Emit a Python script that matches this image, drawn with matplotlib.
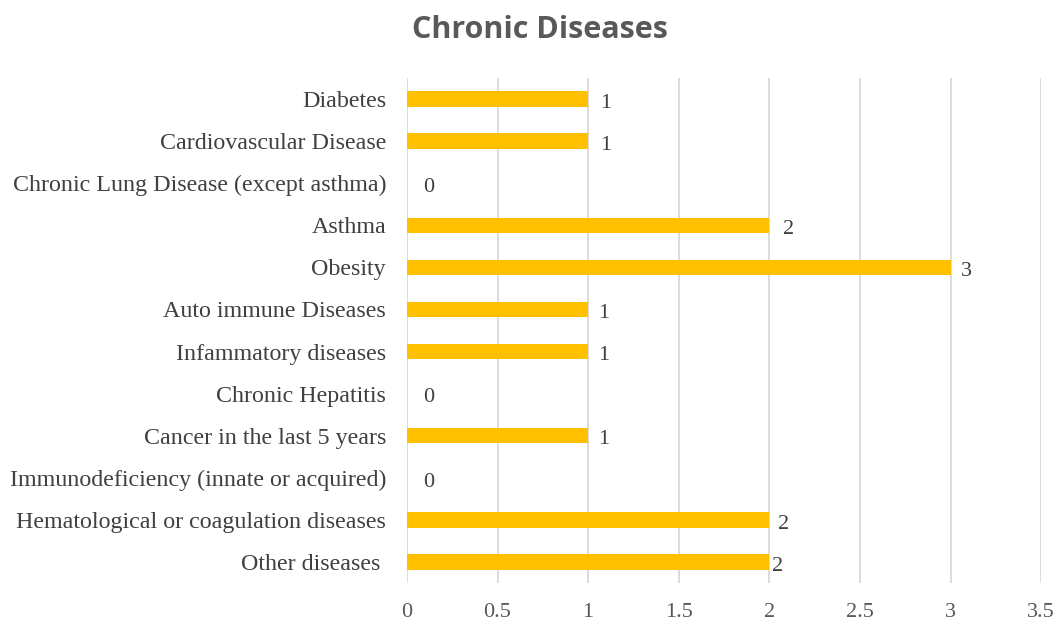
import matplotlib.pyplot as plt

categories = [
    "Diabetes",
    "Cardiovascular Disease",
    "Chronic Lung Disease (except asthma)",
    "Asthma",
    "Obesity",
    "Auto immune Diseases",
    "Infammatory diseases",
    "Chronic Hepatitis",
    "Cancer in the last 5 years",
    "Immunodeficiency (innate or acquired)",
    "Hematological or coagulation diseases",
    "Other diseases ",
]
counts = [1, 1, 0, 2, 3, 1, 1, 0, 1, 0, 2, 2]
xticks = [0, 0.5, 1, 1.5, 2, 2.5, 3, 3.5]
xtick_labels = ["0", "0.5", "1", "1.5", "2", "2.5", "3", "3.5"]

# horizontal nudge (px) of each value label past its bar end
label_dx = [12, 12, 16, 14, 10, 10, 10, 16, 10, 16, 9, 3]

serif = ["Liberation Serif", "DejaVu Serif"]
gray = "#595959"

fig = plt.figure(figsize=(10.57, 6.23), dpi=100)
ax = fig.add_axes([0.385, 0.064, 0.6, 0.811])

ypos = list(range(len(categories)))
bars = ax.barh(ypos, counts, height=0.36, color="#FFC000", zorder=3)

ax.set_xlim(0, 3.5)
ax.set_ylim(len(categories) - 0.5, -0.5)
ax.set_xticks(xticks)
ax.set_xticklabels(xtick_labels, fontfamily=serif, fontsize=16, color=gray)
ax.set_yticks(ypos)
ax.set_yticklabels(categories, fontfamily=serif, fontsize=17.3, color="#404040")
ax.tick_params(axis="y", length=0, pad=15)
ax.tick_params(axis="x", length=0, pad=14)

ax.grid(axis="x", color="#d9d9d9", linewidth=1.3, zorder=0)
for s in ax.spines.values():
    s.set_visible(False)

for y, v, dx in zip(ypos, counts, label_dx):
    ax.annotate(str(v), (v, y), xytext=(dx * 0.72, -3), textcoords="offset points",
                ha="left", va="center", fontfamily=serif, fontsize=16, color="#404040")

fig.text(0.511, 0.952, "Chronic Diseases", ha="center", va="center",
         fontfamily=["Open Sans", "DejaVu Sans"], fontweight="bold", fontsize=22, color=gray)

fig.savefig("out.png", dpi=100)
